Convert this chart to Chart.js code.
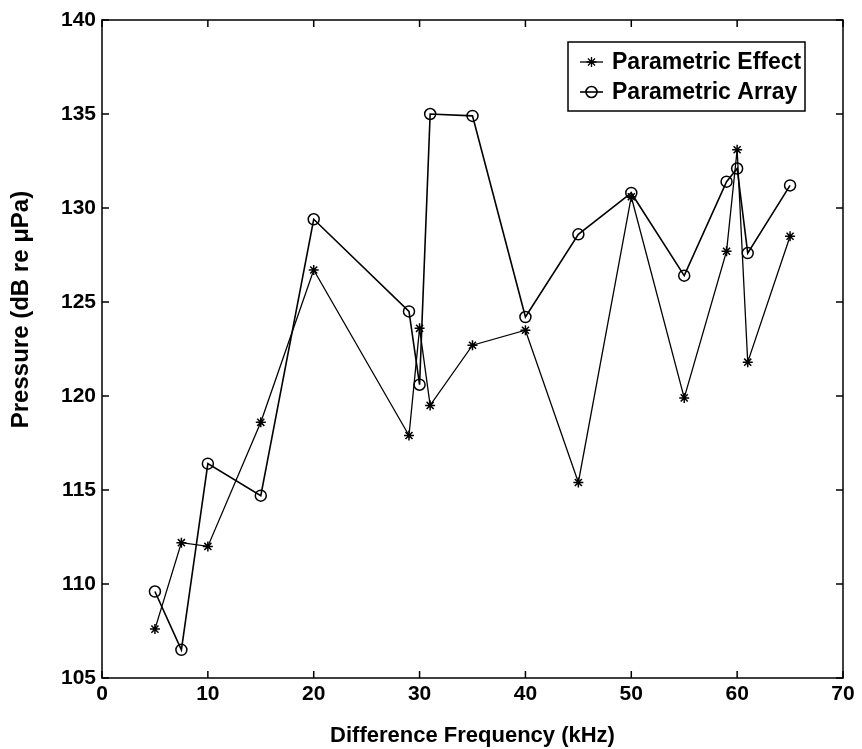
<!DOCTYPE html>
<html>
<head>
<meta charset="utf-8">
<script src="https://cdn.jsdelivr.net/npm/chart.js@4.4.1/dist/chart.umd.min.js"></script>
<style>
  html, body { margin: 0; padding: 0; background: #fff; }
  #wrap { width: 862px; height: 749px; }
</style>
</head>
<body>
<div id="wrap"><canvas id="freqChart" width="862" height="749"></canvas></div>
<script>
// donnees
const frequencies = [5, 7.5, 10, 15, 20, 29, 30, 31, 35, 40, 45, 50, 55, 59, 60, 61, 65];
const effectValues = [107.6, 112.2, 112.0, 118.6, 126.7, 117.9, 123.6, 119.5, 122.7, 123.5, 115.4, 130.6, 119.9, 127.7, 133.1, 121.8, 128.5];
const arrayValues = [109.6, 106.5, 116.4, 114.7, 129.4, 124.5, 120.6, 135.0, 134.9, 124.2, 128.6, 130.8, 126.4, 131.4, 132.1, 127.6, 131.2];
const seriesNames = ['Parametric Effect', 'Parametric Array'];
const xTickValues = [0, 10, 20, 30, 40, 50, 60, 70];
const yTickValues = [105, 110, 115, 120, 125, 130, 135, 140];

const FONT = "'Liberation Sans', Arial, Helvetica, sans-serif";

function toPoints(xs, ys) {
    return xs.map((x, i) => ({ x: x, y: ys[i] }));
}

// dessine un marqueur (etoile ou cercle)
function drawMarker(ctx, style, x, y, r) {
    ctx.beginPath();
    if (style === 'circle') {
        ctx.arc(x, y, r, 0, Math.PI * 2);
    } else {
        for (let k = 0; k < 4; k++) {
            const a = k * Math.PI / 4;
            ctx.moveTo(x - r * Math.cos(a), y - r * Math.sin(a));
            ctx.lineTo(x + r * Math.cos(a), y + r * Math.sin(a));
        }
    }
    ctx.stroke();
}

// cadre + graduations vers l'interieur (style matlab)
const frameTicks = {
    id: 'frameTicks',
    afterDatasetsDraw(chart) {
        const { ctx, chartArea: a, scales } = chart;
        const len = 7;
        ctx.save();
        ctx.strokeStyle = '#000';
        ctx.lineWidth = 1.5;
        ctx.strokeRect(a.left, a.top, a.right - a.left, a.bottom - a.top);
        ctx.beginPath();
        xTickValues.forEach(v => {
            const px = scales.x.getPixelForValue(v);
            ctx.moveTo(px, a.bottom); ctx.lineTo(px, a.bottom - len);
            ctx.moveTo(px, a.top); ctx.lineTo(px, a.top + len);
        });
        yTickValues.forEach(v => {
            const py = scales.y.getPixelForValue(v);
            ctx.moveTo(a.left, py); ctx.lineTo(a.left + len, py);
            ctx.moveTo(a.right, py); ctx.lineTo(a.right - len, py);
        });
        ctx.stroke();

        // titre de l'axe y, un peu au-dessus du centre comme sur l'original
        const yTitle = chart.options.scales.y.title;
        ctx.fillStyle = '#000';
        ctx.font = 'bold 24px ' + FONT;
        ctx.textAlign = 'center';
        ctx.textBaseline = 'middle';
        ctx.translate(21, a.top + (a.bottom - a.top) * 0.44);
        ctx.rotate(-Math.PI / 2);
        ctx.fillText(yTitle.text, 0, 0);
        ctx.restore();
    }
};

// legende encadree en haut a droite
const boxLegend = {
    id: 'boxLegend',
    afterDraw(chart) {
        const { ctx, chartArea: a } = chart;
        const left = a.right - 275, top = a.top + 22;
        const w = 237, h = 69;
        ctx.save();
        ctx.fillStyle = '#fff';
        ctx.fillRect(left, top, w, h);
        ctx.strokeStyle = '#000';
        ctx.lineWidth = 1.5;
        ctx.strokeRect(left, top, w, h);
        chart.data.datasets.forEach((ds, i) => {
            const y = top + 20 + i * 30;
            ctx.lineWidth = ds.borderWidth;
            ctx.beginPath();
            ctx.moveTo(left + 12, y);
            ctx.lineTo(left + 35, y);
            ctx.stroke();
            drawMarker(ctx, ds.pointStyle, left + 23.5, y, ds.pointRadius);
            ctx.fillStyle = '#000';
            ctx.font = 'bold 23px ' + FONT;
            ctx.textAlign = 'left';
            ctx.textBaseline = 'middle';
            ctx.fillText(ds.label, left + 44, y + 1);
        });
        ctx.restore();
    }
};

const ctx = document.getElementById('freqChart');
new Chart(ctx.getContext('2d'), {
    type: 'line',
    data: {
        datasets: [{
            label: seriesNames[0],
            data: toPoints(frequencies, effectValues),
            borderColor: '#000',
            borderWidth: 1.3,
            pointStyle: 'star',
            pointRadius: 5,
            pointBorderColor: '#000',
            pointBorderWidth: 1.5,
            pointBackgroundColor: '#000',
            tension: 0
        }, {
            label: seriesNames[1],
            data: toPoints(frequencies, arrayValues),
            borderColor: '#000',
            borderWidth: 1.6,
            pointStyle: 'circle',
            pointRadius: 5.5,
            pointBorderColor: '#000',
            pointBorderWidth: 1.5,
            pointBackgroundColor: 'rgba(0,0,0,0)',
            tension: 0
        }]
    },
    options: {
        responsive: false,
        animation: false,
        devicePixelRatio: 1,
        layout: { padding: { left: 0, right: 19, top: 20, bottom: 0 } },
        plugins: {
            legend: { display: false },
            tooltip: { enabled: false }
        },
        scales: {
            x: {
                type: 'linear',
                min: 0,
                max: 70,
                afterFit: scale => { scale.height = 71; },
                afterBuildTicks: scale => { scale.ticks = xTickValues.map(v => ({ value: v })); },
                grid: { display: false, drawTicks: false },
                border: { display: false },
                ticks: {
                    color: '#000',
                    padding: 4,
                    maxRotation: 0,
                    font: { family: FONT, size: 21, weight: 'bold' }
                },
                title: {
                    display: true,
                    text: 'Difference Frequency (kHz)',
                    color: '#000',
                    padding: 0,
                    font: { family: FONT, size: 22, weight: 'bold' }
                }
            },
            y: {
                type: 'linear',
                min: 105,
                max: 140,
                afterFit: scale => { scale.width = 102; },
                afterBuildTicks: scale => { scale.ticks = yTickValues.map(v => ({ value: v })); },
                grid: { display: false, drawTicks: false },
                border: { display: false },
                ticks: {
                    color: '#000',
                    padding: 6,
                    font: { family: FONT, size: 21, weight: 'bold' }
                },
                // dessine par le plugin frameTicks
                title: {
                    display: false,
                    text: 'Pressure (dB re μPa)'
                }
            }
        }
    },
    plugins: [frameTicks, boxLegend]
});
</script>
</body>
</html>
